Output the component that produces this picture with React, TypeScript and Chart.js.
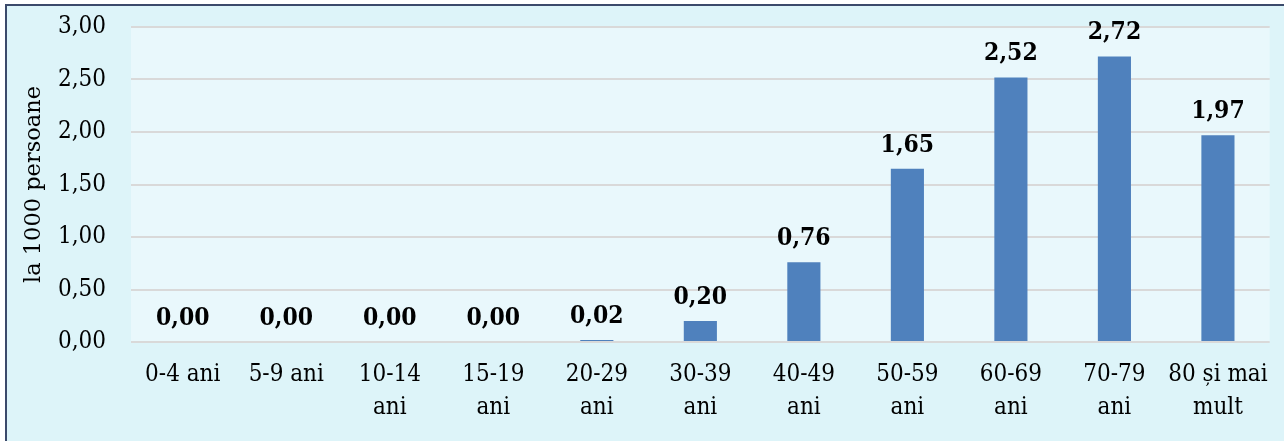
import React, { useEffect, useRef } from "react";
import { Chart, registerables } from "chart.js";

Chart.register(...registerables);

const categories: (string | string[])[] = [
  "0-4 ani",
  "5-9 ani",
  ["10-14", "ani"],
  ["15-19", "ani"],
  ["20-29", "ani"],
  ["30-39", "ani"],
  ["40-49", "ani"],
  ["50-59", "ani"],
  ["60-69", "ani"],
  ["70-79", "ani"],
  ["80 și mai", "mult"],
];
const values: number[] = [0.0, 0.0, 0.0, 0.0, 0.02, 0.2, 0.76, 1.65, 2.52, 2.72, 1.97];
const yTitle = "la 1000 persoane";
const yMin = 0;
const yMax = 3;
const yStep = 0.5;

const fmt = (v: number) => v.toFixed(2).replace(".", ",");

const TICK_FAMILY = "'DejaVu Serif Condensed', 'Liberation Serif'";

const plotBg = {
  id: "plotBg",
  beforeDraw(chart: any) {
    const { ctx, chartArea } = chart;
    ctx.save();
    ctx.fillStyle = "#E9F8FC";
    ctx.fillRect(chartArea.left, chartArea.top, chartArea.right - chartArea.left, chartArea.bottom - chartArea.top);
    ctx.restore();
  },
};

const dataLabels = {
  id: "dataLabels",
  afterDatasetsDraw(chart: any) {
    const { ctx } = chart;
    const meta = chart.getDatasetMeta(0);
    const data = chart.data.datasets[0].data as number[];
    const sy = 1.12;
    meta.data.forEach((bar: any, i: number) => {
      ctx.save();
      ctx.font = "bold 22px 'DejaVu Serif'";
      ctx.fillStyle = "#000000";
      ctx.textAlign = "center";
      ctx.textBaseline = "alphabetic";
      ctx.translate(bar.x, bar.y - 17);
      ctx.scale(1, sy);
      ctx.fillText(fmt(data[i]), 0, 0);
      ctx.restore();
    });
  },
};

export default function App() {
  const ref = useRef<HTMLCanvasElement>(null);
  useEffect(() => {
    document.body.style.margin = "0";
    const chart = new Chart(ref.current!, {
      type: "bar",
      data: {
        labels: categories,
        datasets: [
          {
            data: values,
            backgroundColor: "#4F81BD",
            borderWidth: 0,
            categoryPercentage: 1,
            barPercentage: 0.32,
          },
        ],
      },
      options: {
        animation: false,
        responsive: false,
        maintainAspectRatio: false,
        layout: { padding: { left: 0, right: 8, top: 27, bottom: 0 } },
        plugins: {
          legend: { display: false },
          tooltip: { enabled: false },
        },
        scales: {
          x: {
            grid: { display: false, drawTicks: false },
            border: { display: false },
            ticks: {
              color: "#000000",
              font: { family: TICK_FAMILY, size: 24, lineHeight: 1.38 },
              padding: 16,
              maxRotation: 0,
              autoSkip: false,
            },
            afterFit: (s: any) => {
              s.height = 99;
            },
          },
          y: {
            min: yMin,
            max: yMax,
            grid: { color: "#D9D9D9", lineWidth: 2, drawTicks: false },
            border: { display: false },
            ticks: {
              stepSize: yStep,
              color: "#000000",
              font: { family: TICK_FAMILY, size: 24 },
              padding: 25,
              callback: (v: any) => fmt(Number(v)),
            },
            title: {
              display: true,
              text: yTitle,
              color: "#000000",
              font: { family: "'DejaVu Serif'", size: 22.5 },
              padding: { top: 21, bottom: 0 },
            },
            afterFit: (s: any) => {
              s.width = 131;
              s.paddingTop = 0;
              s.paddingBottom = 0;
            },
          },
        },
      },
      plugins: [plotBg, dataLabels],
    });
    return () => chart.destroy();
  }, []);

  return (
    <div style={{ position: "absolute", left: 0, top: 0, width: 1284, height: 441, background: "#FFFFFF", overflow: "hidden" }}>
      <div
        style={{
          position: "absolute",
          left: 5,
          top: 4,
          width: 1400,
          height: 500,
          background: "#DDF4F9",
          borderLeft: "2px solid #3B4A6B",
          borderTop: "2px solid #3B4A6B",
        }}
      />
      <canvas ref={ref} width={1284} height={441} style={{ position: "absolute", left: 0, top: 0, width: 1284, height: 441 }} />
    </div>
  );
}
